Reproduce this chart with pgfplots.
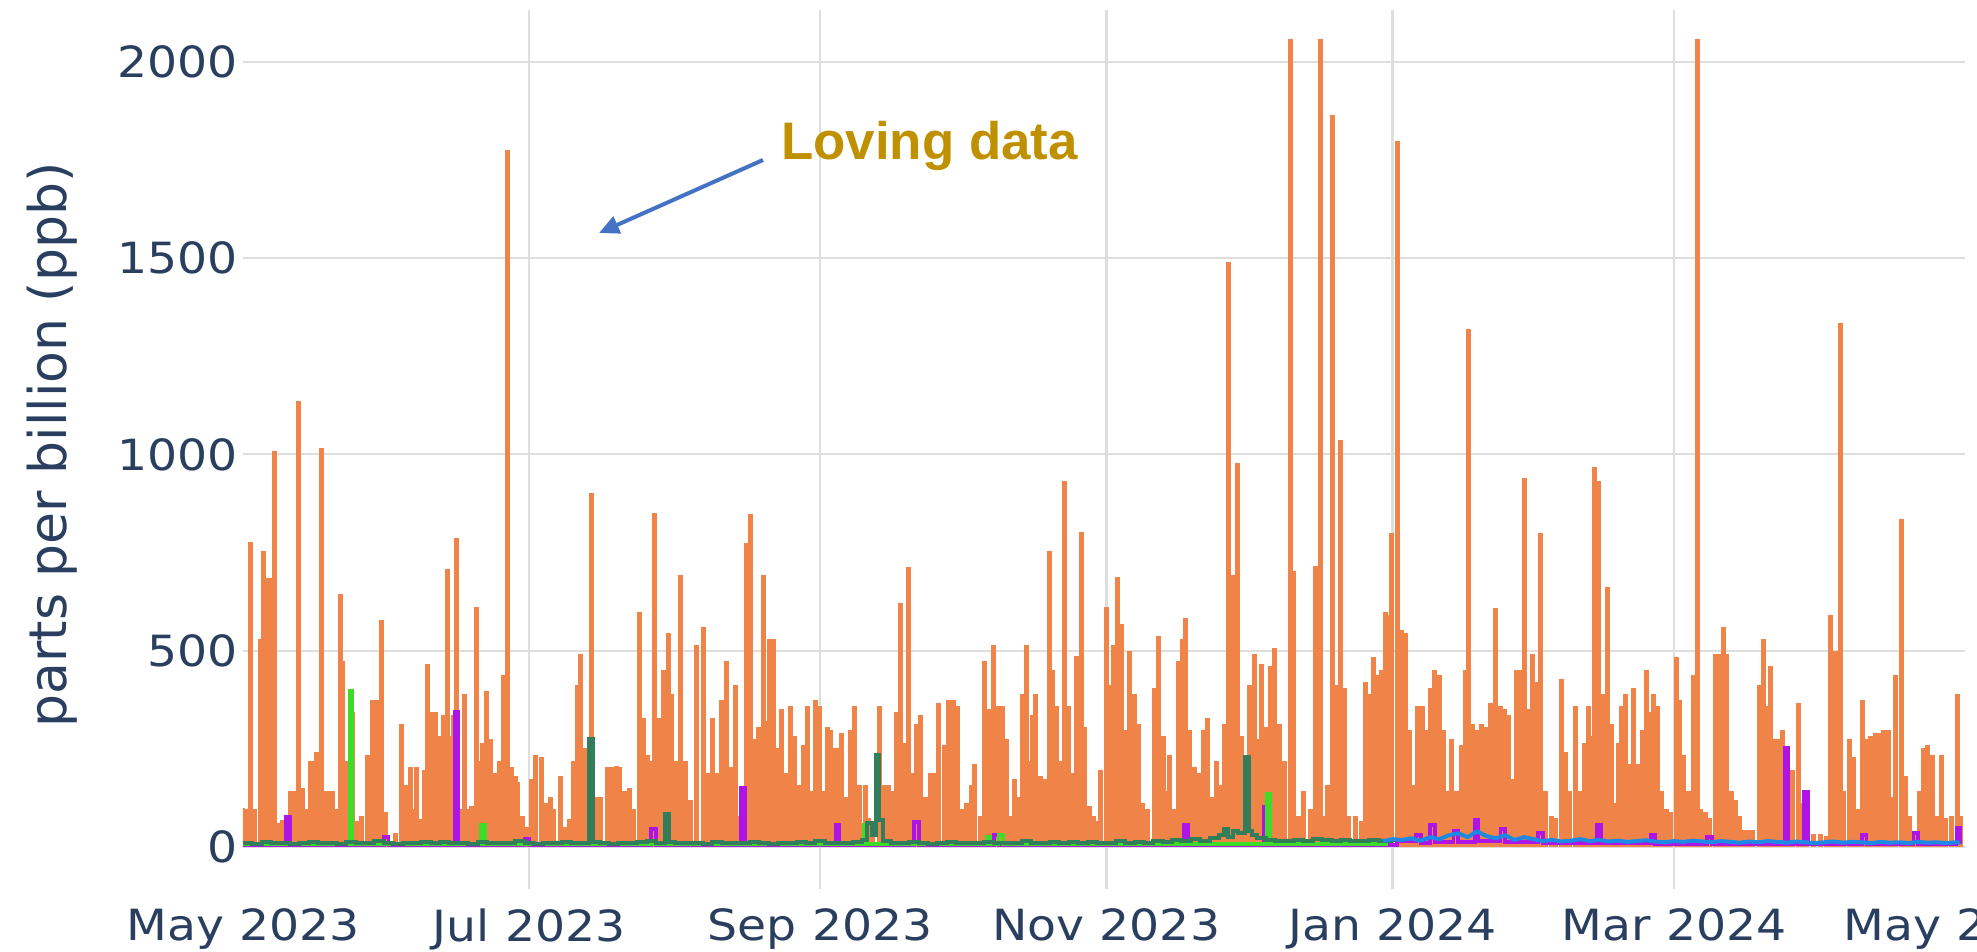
\documentclass[border=0pt]{standalone}
\usepackage{fontspec}
\setmainfont{DejaVu Sans}[FakeStretch=1.1]
\newfontfamily\titlefont{DejaVu Sans}
\newfontfamily\annfont{Liberation Sans}
\usepackage{pgfplots}
\pgfplotsset{compat=1.18}
\usepackage{pgfplotstable}
\usetikzlibrary{arrows.meta}
\definecolor{tickc}{HTML}{2A3F5F}
\definecolor{orangec}{RGB}{240,132,72}
\definecolor{purplec}{RGB}{175,20,230}
\definecolor{lgreenc}{RGB}{60,220,40}
\definecolor{dgreenc}{RGB}{50,125,90}
\definecolor{bluec}{RGB}{30,136,229}
\definecolor{gridc}{RGB}{222,222,222}
\definecolor{annc}{HTML}{BF9000}
\definecolor{arrowc}{HTML}{4472C4}

% x = days since 1 May 2023
\pgfplotstableread{
x y
0 100
0.86 96
1.6 777
2.5 96
3.7 530
4.4 754
5.1 684
5.9 684
6.7 1009
7.4 60
8.4 70
9.1 55
10.1 142
11.2 142
11.8 1136
12.6 150
13.4 96
14.3 220
14.8 220
15.6 243
16.7 1017
17.5 142
18.5 142
19.1 142
19.8 96
20.7 645
21.3 475
22.0 220
22.9 344
23.4 344
24.4 65
25.3 80
26.5 235
27.5 375
28.6 375
29.6 579
30.3 88
31.5 15
32.4 35
33.7 313
34.6 158
35.6 204
36.3 96
36.9 204
37.7 72
38.6 197
39.4 467
40.1 344
41.0 344
41.9 282
42.7 336
43.5 707
44.1 282
44.8 336
45.5 788
46.2 96
47.2 390
48.0 96
48.6 104
49.7 611
50.5 220
51.0 266
52.0 398
52.7 274
53.7 189
54.6 220
55.5 437
56.4 1775
57.2 204
58.1 181
58.6 166
59.6 80
60.5 50
61.5 173
62.4 235
63.6 228
64.5 111
65.5 127
66.2 96
67.7 181
68.6 50
69.6 72
70.5 220
71.2 413
71.9 491
72.7 251
73.6 197
74.3 901
75.3 127
76.2 127
77.6 204
78.6 204
79.5 207
80.3 204
81.3 142
82.4 150
83.3 96
84.6 599
85.4 328
86.2 235
87.2 220
87.8 850
88.6 328
89.6 452
90.7 545
91.4 390
92.4 220
93.3 692
94.3 220
95.3 120
96.6 514
98.1 560
99.0 189
100.0 328
100.9 189
101.9 375
103.1 475
104.1 204
104.9 413
105.9 80
106.6 142
107.3 774
108.1 847
108.8 274
109.8 305
110.9 692
111.7 320
112.3 529
113.0 529
113.8 251
114.7 351
115.7 189
116.6 359
117.6 282
118.7 158
119.5 259
120.4 359
121.2 142
122.0 375
122.8 359
123.8 142
124.5 305
125.2 297
126.1 251
126.9 251
127.6 290
128.5 127
129.5 297
130.4 359
131.4 158
132.6 158
133.3 73
134.2 60
135.7 359
136.6 158
137.6 158
138.5 142
139.2 344
140.1 622
140.9 266
141.8 712
142.8 189
143.6 313
144.4 336
145.4 127
146.6 189
147.3 189
148.2 367
149.5 259
150.4 375
151.4 375
152.3 359
153.3 96
154.2 111
155.2 158
156.0 212
157.1 80
158.0 475
159.0 351
159.9 514
160.9 359
161.8 359
162.8 274
163.7 80
164.4 173
165.3 127
166.1 390
166.9 514
167.6 220
168.2 336
169.0 390
169.9 181
170.9 173
171.8 754
172.6 452
173.4 359
174.2 220
175.1 932
175.9 359
176.9 189
177.7 486
178.8 803
179.4 305
180.4 104
181.3 80
182.1 65
182.8 197
184.0 611
184.8 413
185.6 514
186.4 687
187.2 568
188.2 297
188.9 498
189.9 390
190.8 313
191.8 111
192.7 96
194.2 406
195.1 537
196.1 282
196.7 142
197.5 235
198.5 96
199.4 475
200.2 529
200.8 584
201.8 297
202.7 204
203.7 189
204.6 297
205.6 328
206.5 127
207.5 220
208.4 158
209.2 313
210.1 1489
210.8 692
212.0 978
212.7 282
213.7 220
214.6 413
215.6 491
216.2 274
217.0 467
218.0 305
218.9 460
219.9 506
220.8 313
222.0 220
223.2 2059
223.9 703
224.9 80
226.0 142
227.5 96
228.6 715
229.7 2059
230.3 80
231.1 158
232.2 1864
233.2 413
233.9 1037
234.7 405
235.6 80
237.0 80
238.4 65
239.3 421
240.0 390
240.9 483
241.9 437
242.7 452
243.4 599
244.1 591
244.8 800
246.0 1799
246.9 553
247.8 545
248.7 297
249.4 158
250.3 359
251.3 359
252.2 297
253.1 406
254.0 452
255.0 437
255.9 297
256.8 142
257.5 274
258.6 142
259.6 259
260.5 452
261.2 1319
262.1 313
263.1 297
264.0 313
264.8 305
265.8 367
266.9 610
267.9 359
268.8 351
269.7 336
270.6 173
271.5 452
272.3 452
273.1 940
273.8 351
274.9 491
275.8 421
276.6 800
277.5 142
278.9 80
279.8 73
280.9 429
281.9 243
282.8 142
284.0 359
284.9 142
285.8 266
286.8 359
287.5 282
288.1 967
288.9 932
289.8 390
290.7 661
291.6 313
292.6 111
293.2 266
293.8 359
294.6 390
295.5 212
296.4 406
297.4 212
298.3 297
299.2 452
299.9 344
300.7 390
301.5 359
302.4 142
303.3 96
304.3 88
305.5 483
306.1 375
307.0 235
308.0 142
309.1 437
310.0 2059
310.7 96
311.6 88
312.6 73
313.8 491
314.7 491
315.5 560
316.2 491
317.2 142
318.1 119
319.0 80
319.9 42
320.9 42
321.8 42
323.2 413
324.1 529
324.8 359
325.5 460
326.4 274
327.3 274
328.2 297
329.1 181
330.3 197
331.5 367
332.4 111
333.3 50
334.7 34
336.1 34
337.4 27
338.4 591
339.3 498
340.4 1334
341.1 142
342.3 274
343.2 228
344.2 96
345.1 375
346.0 274
346.9 282
347.9 290
348.8 290
349.7 297
350.6 297
351.5 127
352.2 437
353.4 836
354.3 181
355.2 80
356.2 34
357.3 142
358.2 251
359.1 259
360.0 235
361.0 80
361.9 235
362.8 73
364.2 80
365.4 390
366.0 80
}\orangedata

\pgfplotstableread{
x y
0 5
9 5
9.2 77
10 5
30 25
31 5
45 5
45.1 343
45.9 5
60 20
61 5
87 45
88 5
106 5
106.2 150
107 5
126.3 55
127 5
143 64
144 5
160 30
161 5
200.6 55
201.4 5
217.6 103
218.4 5
246 15
250 30
251 10
253 55
254 12
258 40
259 12
262.5 70
263.3 15
268 45
269 12
276 35
277 10
288.6 55
289.4 10
300 30
301 8
312 25
313 8
328.6 253
329.4 8
332.7 141
333.5 8
345 30
346 8
356 35
357 8
365.2 48
366 8
}\purpledata

\pgfplotstableread{
x y
0 8
22.7 398
23.3 8
50.8 55
51.6 8
132.3 57
133.1 8
158.5 26
159.3 8
161 30
162 8
218.2 135
219 8
244 8
}\lgreendata

\pgfplotstableread{
x y
0 10
2 8
4 12
6 9
8 11
10 7
12 10
14 13
16 9
18 11
20 8
22 12
24 10
26 9
28 14
30 10
32 8
34 11
36 9
38 12
40 10
42 13
44 9
46 11
48 8
50 12
52 10
54 9
56 11
58 14
60 10
62 8
64 11
66 9
68 12
70 10
72 11
73.8 274
74.6 12
76 10
78 8
80 11
82 9
84 12
86 14
88 10
90 85
90.8 12
92 9
94 11
96 10
98 8
100 12
102 10
104 9
106 11
108 13
110 10
112 8
114 11
116 9
118 12
120 10
122 14
124 9
126 11
128 10
130 12
132 18
133 60
134 30
134.8 235
135.6 70
136.4 15
138 10
140 9
142 12
144 10
146 8
148 11
150 13
152 9
154 11
156 10
158 12
160 9
162 11
164 10
166 14
168 10
170 9
172 12
174 11
176 13
178 10
180 12
182 9
184 11
186 14
188 10
190 12
192 11
194 15
196 12
198 18
200 14
202 20
204 16
206 22
208 30
209 45
210 25
211 40
212 35
213.6 230
214.4 40
215 30
216 22
218 18
220 16
222 14
224 18
226 15
228 20
230 17
232 15
234 18
236 16
238 14
240 17
242 15
244 14
245 12
}\dgreendata

\pgfplotstableread{
x y
243 15
245 20
247 18
249 22
251 16
253 25
255 20
257 30
259 35
261 25
263 40
265 28
267 22
269 30
271 18
273 25
275 20
277 15
279 18
281 14
283 16
285 20
287 15
289 18
291 14
293 16
295 13
297 15
299 17
301 14
303 12
305 15
307 13
309 16
311 14
313 12
315 15
317 13
319 11
321 14
323 12
325 15
327 13
329 11
331 14
333 12
335 10
337 12
339 14
341 11
343 13
345 12
347 10
349 13
351 11
353 12
355 10
357 13
359 11
361 12
363 10
365 12
366 11
}\bluedata

\begin{document}
\begin{tikzpicture}
\useasboundingbox (-121.5pt,-31.5pt) rectangle (867pt,444.5pt);
\begin{axis}[
  at={(0,0)}, anchor=south west,
  scale only axis, width=861pt, height=439.5pt,
  xmin=0, xmax=367, ymin=-107, ymax=2132,
  axis line style={draw=none},
  major tick length=0pt,
  xtick={61,123,184,245,305},
  xticklabels={Jul 2023,Sep 2023,Nov 2023,Jan 2024,Mar 2024},
  extra x ticks={0,366},
  extra x tick labels={May 2023,May 2024},
  extra x tick style={grid=none},
  ytick={0,500,1000,1500,2000},
  yticklabels={0,500,1000,1500,2000},
  grid=major,
  x grid style={gridc, line width=1.2pt},
  y grid style={gridc, line width=0.9pt},
  ticklabel style={font=\fontsize{21.5}{24}\selectfont, text=tickc, inner sep=0pt},
  xticklabel style={anchor=north, yshift=-9.5pt},
  yticklabel style={anchor=east, xshift=-2.5pt},
]
\addplot[orangec, line width=2.5pt, ycomb] table {\orangedata};
\addplot[purplec, line width=1.9pt, const plot mark left] table {\purpledata};
\addplot[lgreenc, line width=1.9pt, const plot mark left] table {\lgreendata};
\addplot[dgreenc, line width=2pt, const plot mark left] table {\dgreendata};
\addplot[bluec, line width=2pt, line join=round] table {\bluedata};
\end{axis}
\node[rotate=90, text=tickc, font=\titlefont\fontsize{26}{30}\selectfont] at (-95.5pt,222pt) {parts per billion (ppb)};
\node[anchor=base west, inner sep=0pt, text=annc, font=\annfont\bfseries\fontsize{26.4}{30}\selectfont] at (269pt,364.9pt) {Loving data};
\draw[arrowc, line width=2pt, -{Triangle[length=10pt,width=9pt]}] (260pt,364.5pt) -- (178pt,328pt);
\end{tikzpicture}
\end{document}
